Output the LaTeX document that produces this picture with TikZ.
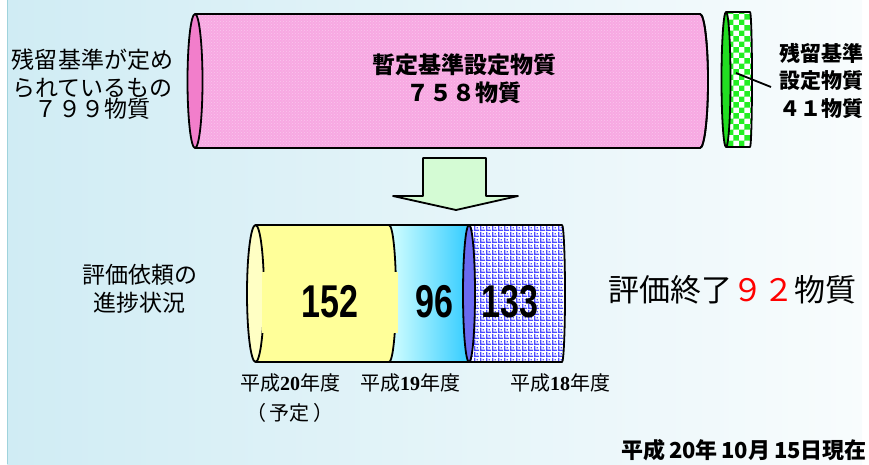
\documentclass[tikz,border=0pt]{standalone}
\usepackage{fontspec}
\usepackage{graphicx}
\setmainfont{Noto Sans CJK JP}
\newfontfamily\numfont{Liberation Sans}
\newfontfamily\serifnum{Liberation Serif}
\usetikzlibrary{patterns}
\definecolor{bgL}{HTML}{D0ECF4}
\definecolor{bgR}{HTML}{F8FCFD}
\definecolor{bgEdge}{HTML}{9FD3DC}
\definecolor{pinkBody}{HTML}{F7A8E2}
\definecolor{pinkFace}{HTML}{F27ECB}
\definecolor{greenFace}{HTML}{22DD22}
\definecolor{greenChk}{HTML}{22EE22}
\definecolor{arrowFill}{HTML}{D4FBD4}
\definecolor{yellowBody}{HTML}{FFFF99}
\definecolor{yellowFace}{HTML}{FFFFC4}
\definecolor{cyanL}{HTML}{D4FFFF}
\definecolor{cyanR}{HTML}{33CCFF}
\definecolor{blueChk}{HTML}{4A4AFF}
\definecolor{blueFace}{HTML}{6A6AF0}
\pgfdeclarepatternformonly{bluegrid}{\pgfpointorigin}{\pgfpoint{6pt}{6pt}}{\pgfpoint{6pt}{6pt}}{%
  \pgfpathrectangle{\pgfpointorigin}{\pgfpoint{6pt}{1.5pt}}%
  \pgfpathrectangle{\pgfpointorigin}{\pgfpoint{1.5pt}{6pt}}%
  \pgfpathrectangle{\pgfpoint{3pt}{3pt}}{\pgfpoint{1.5pt}{1.5pt}}%
  \pgfusepath{fill}}
\newcommand{\yr}[1]{{\serifnum\bfseries #1}}
\newcommand{\bignum}[1]{{\numfont\bfseries\fontsize{46}{46}\selectfont\scalebox{0.74}[1]{#1}}}
\tikzset{
  outline/.style={draw=black, line width=1.8pt, line join=round},
  txt/.style={inner sep=0pt, align=center, text=black},
}
\begin{document}
\begin{tikzpicture}[x=1pt,y=-1pt]
\useasboundingbox (0,0) rectangle (869,464);
% background
\shade[left color=bgL,right color=bgR] (7,0) rectangle (862,464);
\draw[bgEdge, line width=1.5pt] (7.5,0) -- (7.5,464);

% top pink cylinder
\path[outline, fill=pinkBody] (195,14) -- (700,14)
  arc[start angle=-90,end angle=90,x radius=8,y radius=67] -- (195,148) -- cycle;
\path[pattern=crosshatch dots, pattern color=white, opacity=0.35] (195,14) -- (700,14)
  arc[start angle=-90,end angle=90,x radius=8,y radius=67] -- (195,148) -- cycle;
\path[outline] (195,14) -- (700,14)
  arc[start angle=-90,end angle=90,x radius=8,y radius=67] -- (195,148);
\path[outline, fill=pinkFace] (195,81) ellipse [x radius=7.5, y radius=67];

% green disc
\path[fill=white] (726,12) -- (750,12)
  arc[start angle=-90,end angle=90,x radius=2,y radius=67.5] -- (726,147) -- cycle;
\path[pattern=checkerboard, pattern color=greenChk] (726,12) -- (750,12)
  arc[start angle=-90,end angle=90,x radius=2,y radius=67.5] -- (726,147) -- cycle;
\path[outline] (726,12) -- (750,12)
  arc[start angle=-90,end angle=90,x radius=2,y radius=67.5] -- (726,147);
\path[outline, fill=greenFace] (726,79.5) ellipse [x radius=4.5, y radius=67.5];

% texts top
\node[txt, font=\fontsize{23}{28}\selectfont] (leftlab) at (92.5,84.5)
  {残留基準が定め\\られているもの\\[-7pt]７９９物質};
\node[txt, font=\fontsize{23}{28}\selectfont\bfseries] (provlab) at (464,79)
  {暫定基準設定物質\\７５８物質};
\node[txt, font=\fontsize{21}{27.5}\selectfont\bfseries] (reslab) at (821,80.5)
  {残留基準\\設定物質\\４１物質};
\coordinate (g1) at (736,73);
\coordinate (g2) at (771,87);
\draw[line width=1.8pt] (g1) -- (g2);

% block arrow
\path[outline, fill=arrowFill] (423,158) -- (486,158) -- (486,196) -- (518,196)
  -- (456,210) -- (393,196) -- (423,196) -- cycle;

% bottom cylinder: checkered section
\path[fill=white] (469,225) -- (562,225)
  arc[start angle=-90,end angle=90,x radius=3,y radius=68.5] -- (469,362) -- cycle;
\path[pattern=bluegrid, pattern color=blueChk] (469,225) -- (562,225)
  arc[start angle=-90,end angle=90,x radius=3,y radius=68.5] -- (469,362) -- cycle;
\path[outline] (469,225) -- (562,225)
  arc[start angle=-90,end angle=90,x radius=3,y radius=68.5] -- (469,362);
% gradient section
\shade[left color=cyanL,right color=cyanR] (389,225) rectangle (469,362);
\path[outline] (389,225) -- (469,225);
\path[outline] (389,362) -- (469,362);
% yellow section
\path[outline, fill=yellowBody] (255.5,225) -- (389,225)
  arc[start angle=-90,end angle=90,x radius=7,y radius=68.5] -- (255.5,362) -- cycle;
\path[outline, fill=blueFace] (469,293.5) ellipse [x radius=6, y radius=68.5];
\path[outline, fill=yellowFace] (255.5,293.5) ellipse [x radius=8.5, y radius=68.5];

% numbers
\node[fill=yellowBody, inner sep=0pt, minimum width=136pt, minimum height=61pt] (n152) at (330,302) {\bignum{152}};
\node[txt] (n96) at (434,302) {\bignum{96}};
\node[txt] (n133) at (510,302) {\bignum{133}};

% year labels
\node[txt, font=\fontsize{20}{30}\selectfont] (y20) at (290,398) {平成\yr{20}年度\\（\hspace{4pt}予定\hspace{4pt}）};
\node[txt, font=\fontsize{20}{30}\selectfont] (y19) at (410,383) {平成\yr{19}年度};
\node[txt, font=\fontsize{20}{30}\selectfont] (y18) at (560,383) {平成\yr{18}年度};

% side labels
\node[txt, font=\fontsize{23}{28}\selectfont] (prog) at (139.5,289) {評価依頼の\\進捗状況};
\node[txt, font=\fontsize{31}{36}\selectfont] (done) at (732,290) {評価終了\textcolor{red}{９２}物質};
\node[txt, anchor=east, font=\fontsize{22}{26}\selectfont\bfseries] (date) at (867,450) {平成\,20年\,10月\,15日現在};
\end{tikzpicture}
\end{document}
